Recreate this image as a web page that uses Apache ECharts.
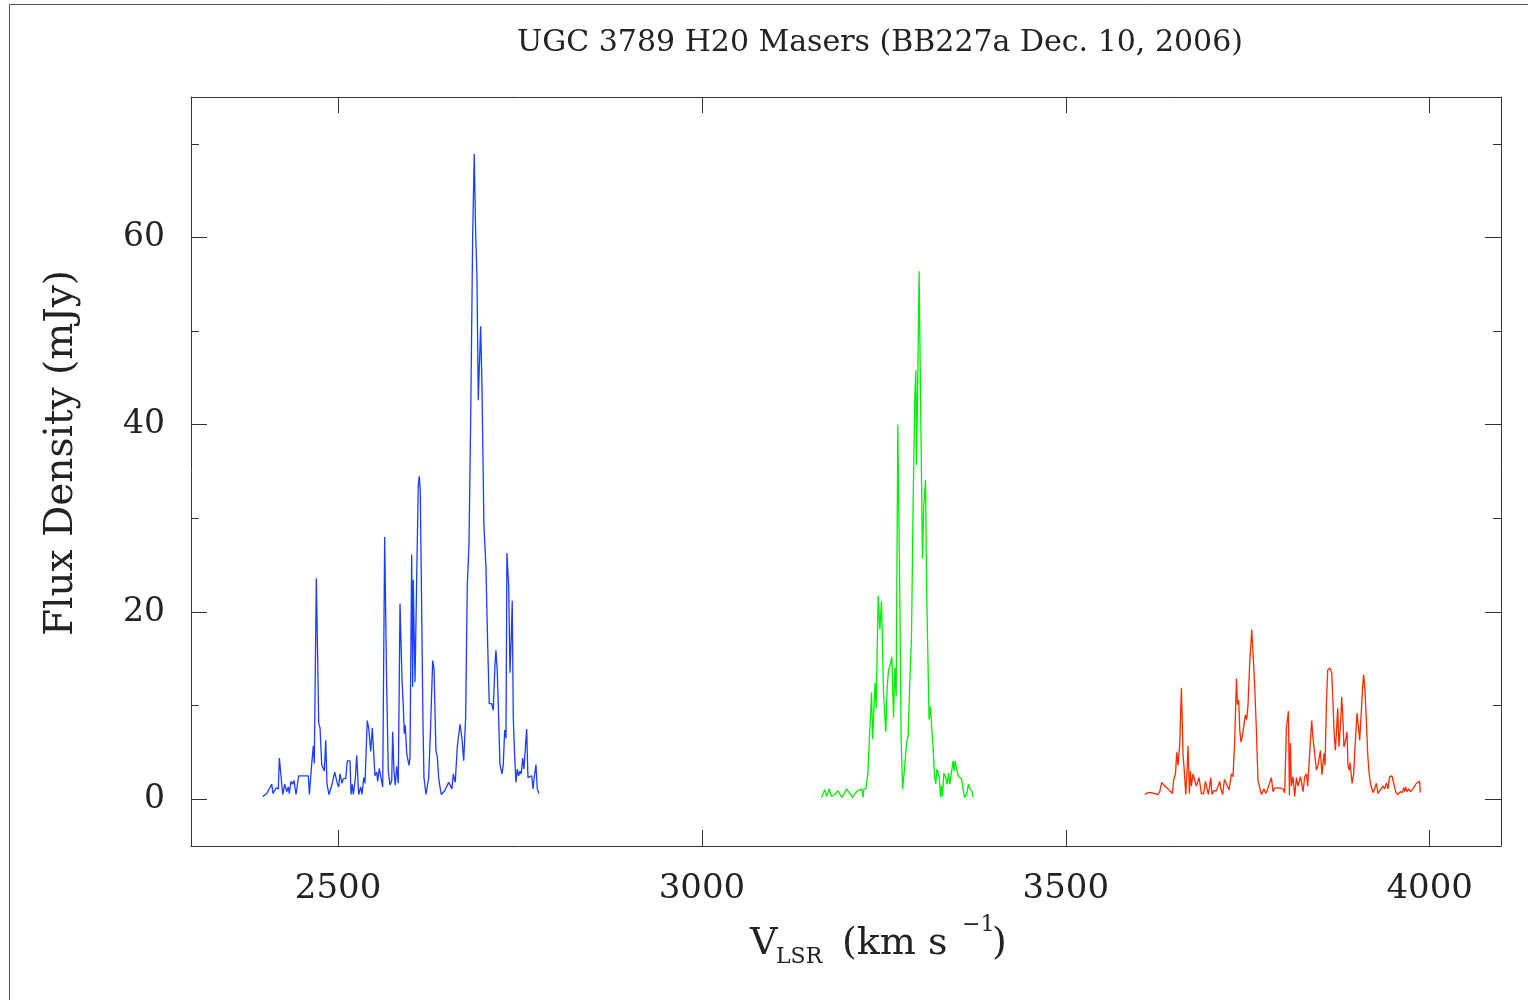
<!DOCTYPE html>
<html>
<head>
<meta charset="utf-8">
<title>UGC 3789 H2O Masers</title>
<script src="https://cdn.jsdelivr.net/npm/echarts@6/dist/echarts.min.js"></script>
<style>
  html, body { margin: 0; padding: 0; background: #ffffff; }
  #chart { width: 1528px; height: 1000px; }
</style>
</head>
<body>
<div id="chart"></div>
<script>
// Blue-shifted high-velocity masers: LSR velocity (km/s) and flux density (mJy)
const blueVel = [2396.6,2402.1,2408.9,2410.7,2414.8,2418.0,2419.4,2421.3,2424.0,2426.8,2429.5,2431.7,2433.1,2435.4,2437.8,2439.6,2442.3,2446.0,2452.0,2459.2,2460.6,2463.9,2466.1,2467.4,2470.2,2473.5,2475.3,2477.6,2479.8,2481.2,2483.1,2484.9,2487.6,2490.0,2491.8,2493.5,2495.5,2497.3,2499.0,2501.0,2502.7,2505.5,2507.3,2510.6,2512.8,2516.5,2517.9,2519.6,2521.0,2523.8,2525.7,2528.4,2531.2,2533.0,2535.3,2537.1,2540.2,2542.2,2544.9,2547.1,2550.8,2553.2,2554.5,2556.7,2558.7,2561.4,2564.1,2565.2,2566.9,2569.1,2571.4,2573.8,2575.1,2576.9,2578.7,2580.6,2582.8,2585.2,2586.1,2587.9,2589.7,2591.1,2592.4,2594.4,2596.2,2597.5,2598.9,2601.2,2602.6,2603.4,2604.8,2605.8,2608.1,2610.3,2611.7,2613.0,2615.0,2616.8,2618.1,2620.9,2624.6,2627.3,2630.1,2631.9,2634.6,2636.4,2638.3,2640.1,2641.9,2644.6,2646.6,2649.3,2652.1,2654.8,2656.6,2658.4,2661.1,2663.9,2667.6,2670.3,2672.7,2675.4,2677.6,2679.9,2682.3,2685.0,2687.2,2689.1,2690.9,2692.7,2696.0,2697.8,2700.5,2703.3,2705.6,2707.8,2711.1,2713.3,2715.7,2717.0,2718.8,2720.7,2722.5,2725.3,2727.1,2729.0,2730.8,2732.1,2734.5,2736.3,2738.0,2739.4,2740.8,2742.7,2744.5,2746.3,2748.2,2750.0,2751.8,2753.7,2755.5,2757.3,2759.2,2761.0,2763.7,2766.1,2767.9,2769.6,2772.0,2773.8,2776.1];
const blueFlux = [0.3,0.6,1.6,0.6,1.2,1.1,4.4,4.2,0.5,1.6,0.8,1.3,0.6,1.9,1.6,2.0,0.5,2.5,2.5,2.5,0.5,3.8,5.7,3.8,23.6,8.1,7.6,3.7,3.9,3.0,6.3,1.6,0.5,0.5,1.6,1.6,2.9,2.9,1.7,1.3,2.7,1.7,2.2,2.2,4.1,4.1,0.5,1.6,0.5,2.2,4.7,0.5,1.3,0.5,2.3,1.7,8.4,7.6,5.1,7.6,2.5,2.9,1.9,3.3,3.3,1.3,28.0,28.0,12.0,3.0,1.5,2.0,7.2,3.0,1.5,3.5,1.7,20.9,20.9,12.9,9.9,7.0,7.9,4.9,4.7,3.6,4.4,26.1,12.0,23.4,23.4,12.5,23.6,33.5,34.5,33.0,20.0,8.0,2.3,0.5,2.3,7.9,14.8,13.9,5.1,4.6,2.3,1.3,0.5,0.5,0.9,0.9,1.8,1.6,1.1,2.7,1.8,5.6,8.0,6.5,4.1,8.8,22.8,27.0,40.5,60.1,68.9,60.6,55.9,42.6,50.5,44.2,29.3,24.7,16.7,10.2,10.2,9.5,14.4,15.9,13.7,8.8,3.7,2.7,3.7,7.4,6.5,26.3,22.8,13.5,17.2,21.2,8.8,4.6,1.8,3.2,2.5,3.0,2.7,4.4,3.2,3.4,7.5,2.3,2.3,2.5,1.1,2.3,3.7,1.1,0.6];

// Systemic masers
const sysVel = [3164.4,3168.9,3171.3,3174.9,3178.1,3182.7,3187.2,3189.5,3191.9,3195.0,3198.7,3203.3,3207.0,3210.2,3214.7,3219.4,3221.6,3222.5,3225.3,3228.0,3229.8,3233.1,3234.5,3236.7,3238.0,3239.4,3242.2,3244.5,3246.8,3247.7,3249.6,3251.0,3252.7,3254.5,3256.4,3258.2,3261.0,3263.3,3265.1,3266.9,3269.2,3272.0,3273.8,3275.7,3278.4,3281.2,3283.4,3285.7,3288.0,3290.2,3292.6,3294.0,3294.9,3296.3,3298.5,3300.4,3301.8,3303.1,3304.9,3307.3,3308.6,3310.4,3312.2,3314.1,3315.9,3317.7,3319.6,3321.4,3322.8,3324.6,3326.0,3327.9,3329.2,3330.6,3332.4,3334.7,3336.9,3338.9,3340.6,3343.0,3345.2,3346.6,3347.9,3349.9,3352.6,3356.7,3360.8,3363.6,3366.3,3368.1,3370.9,3372.7];
const sysFlux = [0.2,1.0,0.3,1.1,0.3,0.5,0.9,1.1,0.2,0.5,1.1,0.6,0.2,0.6,0.9,1.1,0.2,1.1,1.1,2.8,3.0,11.4,6.4,6.6,12.4,9.7,21.7,18.1,21.1,21.1,11.2,11.0,7.2,11.8,13.8,14.2,15.2,8.7,14.0,11.0,40.0,21.3,6.4,1.1,3.2,6.0,6.8,12.6,17.3,31.4,43.1,45.8,35.7,43.1,56.4,43.1,34.1,25.7,31.4,34.1,23.5,15.7,8.5,9.9,7.5,5.6,2.4,1.6,3.2,2.8,2.4,0.2,1.4,0.3,2.8,2.4,1.6,2.8,1.6,1.6,4.1,3.0,4.1,3.2,2.4,2.2,0.2,0.5,1.6,1.1,0.9,0.2];

// Red-shifted high-velocity masers
const redVel = [3608.5,3613.0,3617.7,3622.2,3626.8,3629.1,3631.8,3636.0,3640.5,3646.5,3648.3,3650.7,3652.5,3654.2,3656.6,3658.9,3661.1,3662.5,3664.8,3666.6,3668.0,3669.9,3671.3,3672.6,3674.8,3677.2,3679.5,3683.1,3686.4,3689.5,3691.9,3694.1,3696.0,3699.2,3700.9,3703.3,3707.0,3709.2,3711.5,3713.3,3715.6,3718.0,3720.7,3724.3,3727.6,3729.8,3732.1,3734.5,3735.8,3737.6,3739.0,3740.8,3742.7,3744.9,3746.8,3748.6,3750.4,3752.7,3755.5,3757.3,3759.6,3761.9,3764.1,3766.5,3768.8,3772.4,3774.7,3777.0,3782.5,3784.7,3787.1,3793.9,3798.5,3800.8,3803.1,3805.9,3807.3,3808.6,3810.0,3812.2,3814.5,3816.9,3819.1,3822.4,3826.0,3828.3,3830.6,3832.4,3835.1,3837.9,3839.7,3842.4,3844.4,3846.5,3849.8,3852.0,3854.8,3856.2,3858.1,3859.9,3861.7,3863.0,3865.4,3867.2,3868.5,3870.4,3871.8,3873.6,3875.4,3877.7,3879.1,3880.9,3882.2,3884.6,3886.4,3887.8,3889.7,3890.5,3893.3,3895.6,3897.0,3900.1,3902.0,3903.8,3906.2,3907.9,3909.3,3911.1,3913.0,3914.8,3916.6,3918.5,3919.9,3922.1,3924.4,3926.8,3929.0,3931.3,3933.6,3935.8,3938.2,3940.5,3942.7,3945.0,3948.2,3950.5,3953.3,3956.0,3959.7,3962.5,3964.3,3965.6,3967.0,3968.8,3971.1,3973.5,3977.0,3981.7,3986.2,3987.2];
const redFlux = [0.5,0.7,0.7,0.6,0.5,0.8,1.8,1.4,1.1,0.6,2.1,2.7,5.0,3.6,5.9,11.9,4.7,3.4,0.5,3.0,5.7,0.6,3.0,1.4,2.7,2.0,1.4,2.3,0.6,0.6,1.9,1.9,0.5,2.3,0.5,0.9,0.9,0.8,1.9,1.0,0.5,2.1,2.3,1.0,2.7,2.4,6.3,12.9,10.1,10.6,7.4,6.1,6.8,6.8,9.0,8.5,10.1,14.5,18.1,15.6,12.0,7.4,2.0,1.9,0.5,1.1,0.6,1.0,2.3,0.8,1.2,1.2,1.1,0.7,7.6,9.4,0.4,6.0,1.4,2.4,0.3,2.3,1.4,2.4,0.8,2.4,2.7,1.4,4.9,8.4,6.5,6.5,3.1,3.6,5.2,2.6,4.9,3.6,10.2,13.8,13.6,14.0,13.5,10.2,7.4,5.2,7.0,9.7,5.6,8.3,10.9,8.4,5.6,6.3,7.2,3.5,3.1,3.9,1.7,2.7,4.9,9.2,7.8,6.3,9.5,12.0,13.3,11.6,8.4,4.9,2.9,1.7,1.9,0.7,1.1,1.7,0.6,0.9,1.1,1.4,1.1,1.7,1.1,2.4,2.5,1.7,0.8,0.5,0.8,0.7,1.2,0.8,1.3,0.8,1.1,0.8,1.1,1.7,1.9,0.7];

// Axis range and tick positions
const xMin = 2298, xMax = 4098;
const yMin = -5, yMax = 75;
const xTicks = [2500, 3000, 3500, 4000];
const yMajorTicks = [0, 20, 40, 60];
const yMinorTicks = [10, 30, 50, 70];

const titleText = 'UGC 3789 H20 Masers (BB227a Dec. 10, 2006)';
const yName = 'Flux Density (mJy)';

const FONT = '"DejaVu Serif", "Liberation Serif", serif';
const FRAME = '#333333';

function pairs(vs, fs) { return vs.map((v, i) => [v, fs[i]]); }

const chart = echarts.init(document.getElementById('chart'), null, { renderer: 'canvas' });

function xAxisDef(pos, labels) {
  return {
    type: 'value', position: pos, min: xMin, max: xMax,
    axisLine: { show: true, onZero: false, lineStyle: { color: FRAME, width: 1 } },
    axisTick: { show: true, inside: true, length: 16, customValues: xTicks, lineStyle: { color: FRAME, width: 1 } },
    axisLabel: labels ? { show: true, customValues: xTicks, margin: 26, fontFamily: FONT, fontSize: 34, color: '#222', formatter: v => String(v) } : { show: false },
    splitLine: { show: false }
  };
}
function yAxisDef(pos, ticks, len, labels, line) {
  return {
    type: 'value', position: pos, min: yMin, max: yMax,
    axisLine: { show: line, onZero: false, lineStyle: { color: FRAME, width: 1 } },
    axisTick: { show: true, inside: true, length: len, customValues: ticks, lineStyle: { color: FRAME, width: 1 } },
    axisLabel: labels ? { show: true, customValues: ticks, margin: 26, fontFamily: FONT, fontSize: 33, color: '#222', formatter: v => String(v) } : { show: false },
    splitLine: { show: false }
  };
}

function lineSeries(name, data, color) {
  return {
    name, type: 'line', data, xAxisIndex: 0, yAxisIndex: 0,
    showSymbol: false, symbol: 'none', smooth: false,
    lineStyle: { color, width: 1.3 }, itemStyle: { color },
    silent: true, animation: false
  };
}

chart.setOption({
  backgroundColor: '#ffffff',
  animation: false,
  grid: { left: 191, right: 27, top: 97, bottom: 154, containLabel: false },
  xAxis: [ xAxisDef('bottom', true), xAxisDef('top', false) ],
  yAxis: [
    yAxisDef('left', yMajorTicks, 16, true, true),
    yAxisDef('left', yMinorTicks, 8, false, false),
    yAxisDef('right', yMajorTicks, 16, false, true),
    yAxisDef('right', yMinorTicks, 8, false, false)
  ],
  series: [
    lineSeries('blue', pairs(blueVel, blueFlux), '#1c3cff'),
    lineSeries('systemic', pairs(sysVel, sysFlux), '#00f000'),
    lineSeries('red', pairs(redVel, redFlux), '#ff2a00')
  ],
  graphic: [
    // outer page frame
    { type: 'rect', silent: true, shape: { x: 9.5, y: 4.5, width: 1700, height: 1200 },
      style: { fill: 'none', stroke: '#555555', lineWidth: 1 } },
    { type: 'text', x: 880, y: 43, silent: true,
      style: { text: titleText, fontFamily: FONT, fontSize: 30, fill: '#222', align: 'center', verticalAlign: 'middle' } },
    { type: 'text', x: 62, y: 453, rotation: Math.PI / 2, silent: true,
      style: { text: yName, fontFamily: FONT, fontSize: 39, fill: '#222', align: 'center', verticalAlign: 'middle' } },
    // x axis name: V_LSR (km s^-1)
    { type: 'text', x: 750, y: 944, silent: true,
      style: { text: 'V', fontFamily: FONT, fontSize: 38, fill: '#222', align: 'left', verticalAlign: 'middle' } },
    { type: 'text', x: 776, y: 957, silent: true,
      style: { text: 'LSR', fontFamily: FONT, fontSize: 22, fill: '#222', align: 'left', verticalAlign: 'middle' } },
    { type: 'text', x: 842, y: 944, silent: true,
      style: { text: '(km s', fontFamily: FONT, fontSize: 38, fill: '#222', align: 'left', verticalAlign: 'middle' } },
    { type: 'text', x: 962, y: 925, silent: true,
      style: { text: '\u22121', fontFamily: FONT, fontSize: 22, fill: '#222', align: 'left', verticalAlign: 'middle' } },
    { type: 'text', x: 992, y: 944, silent: true,
      style: { text: ')', fontFamily: FONT, fontSize: 38, fill: '#222', align: 'left', verticalAlign: 'middle' } }
  ]
});
</script>
</body>
</html>
